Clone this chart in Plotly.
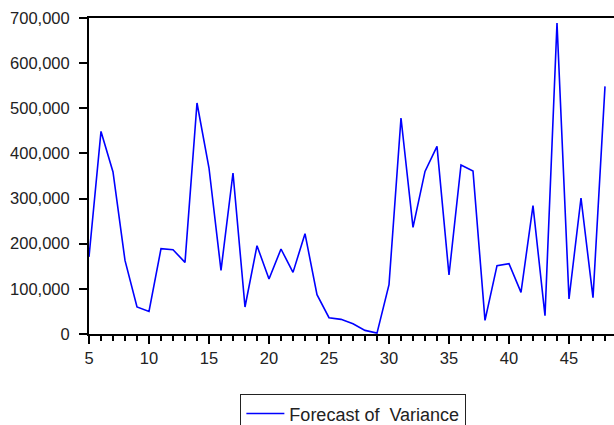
import plotly.graph_objects as go

# Observation index and forecast variance
periods = list(range(5, 49))
forecast_variance = [
    171000, 448800, 358900, 163000, 60000, 50000, 189000, 186800, 158600, 511700,
    367700, 140900, 356700, 59800, 195600, 121800, 188300, 136500, 222200, 87100,
    36100, 32400, 22800, 8000, 2000, 109200, 478500, 236200, 360200, 415600,
    130700, 374400, 361100, 30100, 151300, 155700, 92200, 284200, 40500, 689000,
    77500, 301300, 80400, 548500,
]
x_ticks = [5, 10, 15, 20, 25, 30, 35, 40, 45]
y_ticks = [0, 100000, 200000, 300000, 400000, 500000, 600000, 700000]

font_family = "Liberation Sans, Arial, sans-serif"

fig = go.Figure(
    go.Scatter(
        x=periods,
        y=forecast_variance,
        mode="lines",
        line=dict(color="#0000FF", width=1.6),
        name="Forecast of\u00a0\u00a0Variance",
    )
)

fig.update_layout(
    width=614,
    height=425,
    margin=dict(l=89, r=0, t=18, b=91, autoexpand=False),
    paper_bgcolor="white",
    plot_bgcolor="white",
    font=dict(family=font_family, size=16.5, color="#222222"),
    showlegend=True,
    legend=dict(
        x=0.503,
        y=-0.19,
        xanchor="center",
        yanchor="top",
        bordercolor="#222222",
        borderwidth=1.3,
        bgcolor="white",
        font=dict(family=font_family, size=18, color="#222222"),
        itemwidth=38,
    ),
)

fig.update_xaxes(
    range=[5, 48.75],
    tickvals=x_ticks,
    ticks="outside",
    ticklen=8,
    tickwidth=2,
    tickcolor="black",
    showline=True,
    linecolor="black",
    linewidth=2,
    mirror=True,
    showgrid=False,
    zeroline=False,
    minor=dict(dtick=1, tick0=5, ticks="outside", ticklen=5, tickwidth=2, tickcolor="black", showgrid=False),
    tickfont=dict(size=16.5),
)

fig.update_yaxes(
    range=[0, 700000],
    tickvals=y_ticks,
    tickformat=",",
    ticks="outside",
    ticklen=8,
    tickwidth=2,
    tickcolor="black",
    showline=True,
    linecolor="black",
    linewidth=2,
    showgrid=False,
    zeroline=False,
    tickfont=dict(size=16.5),
    ticklabelstandoff=6,
)

fig.write_html("out.html")
